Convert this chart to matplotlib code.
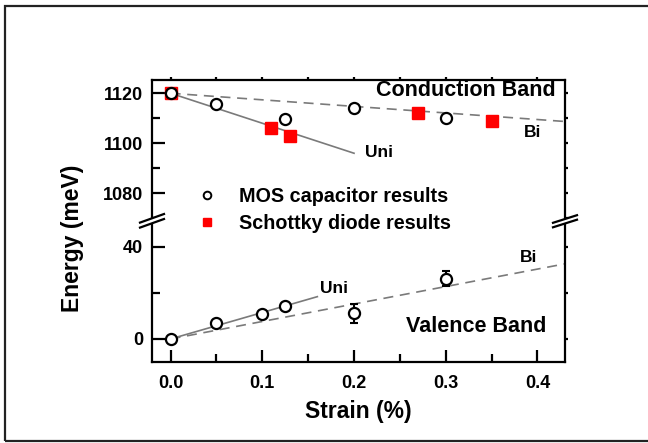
"""Band-edge shift vs. strain: conduction band (top) and valence band (bottom), broken y-axis."""

import matplotlib

matplotlib.use("Agg")
import matplotlib.pyplot as plt
from matplotlib.lines import Line2D
from matplotlib.patches import Polygon, Rectangle
from matplotlib.ticker import FormatStrFormatter, MultipleLocator

plt.rcParams["font.family"] = ["Liberation Sans", "DejaVu Sans"]
plt.rcParams["font.weight"] = "bold"
plt.rcParams["axes.labelweight"] = "bold"

# --- data ---------------------------------------------------------------------
# conduction band (meV)
cb_mos_strain = [0.0, 0.05, 0.125, 0.2, 0.3]
cb_mos_energy = [1120.0, 1115.6, 1109.8, 1114.0, 1109.9]
cb_sch_strain = [0.0, 0.11, 0.13, 0.27, 0.35]
cb_sch_energy = [1120.0, 1106.0, 1102.7, 1112.0, 1109.1]
cb_uni_strain = [0.0, 0.20]
cb_uni_energy = [1120.0, 1096.0]
cb_bi_strain = [0.0, 0.43]
cb_bi_energy = [1120.0, 1108.7]

# valence band (meV)
vb_mos_strain = [0.0, 0.05, 0.10, 0.125, 0.2, 0.3]
vb_mos_energy = [0.0, 7.1, 11.0, 14.3, 11.1, 26.0]
vb_mos_err = [0.0, 0.0, 0.0, 0.0, 4.0, 3.2]
vb_uni_strain = [0.0, 0.16]
vb_uni_energy = [0.0, 18.3]
vb_bi_strain = [0.0, 0.43]
vb_bi_energy = [0.0, 32.5]

W, H = 648, 443
fig = plt.figure(figsize=(W / 100, H / 100), dpi=100)


def px(x, y):
    """pixel (top-left origin) -> figure fraction"""
    return x / W, 1 - y / H


L, R, T, BRK, B = 151.7, 565.0, 80.0, 222.0, 362.3
ax_top = fig.add_axes([L / W, 1 - BRK / H, (R - L) / W, (BRK - T) / H])
ax_bot = fig.add_axes([L / W, 1 - B / H, (R - L) / W, (B - BRK) / H])
ax_top.patch.set_visible(False)
ax_bot.patch.set_visible(False)
ax_top.set_zorder(3)

line_grey = "#7a7a7a"
circ = dict(marker="o", ms=8, mfc="white", mec="black", mew=1.6, ls="none", zorder=5)
sq = dict(marker="s", ms=8, color="#ff0000", mec="#ff0000", ls="none", zorder=4)

# top: conduction band
ax_top.plot(cb_uni_strain, cb_uni_energy, color=line_grey, lw=1.2, zorder=2)
ax_top.plot(cb_bi_strain, cb_bi_energy, color=line_grey, lw=1.2, ls=(0, (6, 4)), zorder=2)
ax_top.plot(cb_sch_strain, cb_sch_energy, **sq)
ax_top.plot(cb_mos_strain, cb_mos_energy, **circ)
ax_top.text(0.212, 1096.3, "Uni", fontsize=12.5, va="center")
ax_top.text(0.385, 1104.3, "Bi", fontsize=12.5, va="center")
ax_top.text(0.42, 1121, "Conduction Band", fontsize=15.5, ha="right", va="center")

# bottom: valence band
ax_bot.plot(vb_uni_strain, vb_uni_energy, color=line_grey, lw=1.2, zorder=2)
ax_bot.plot(vb_bi_strain, vb_bi_energy, color=line_grey, lw=1.2, ls=(0, (6, 4)), zorder=2)
ax_bot.errorbar(vb_mos_strain, vb_mos_energy, yerr=vb_mos_err, fmt="none",
                ecolor="black", elinewidth=1.5, capsize=3, capthick=1.5, zorder=4)
ax_bot.plot(vb_mos_strain, vb_mos_energy, **circ)
ax_bot.text(0.163, 21.8, "Uni", fontsize=12.5, va="center")
ax_bot.text(0.381, 35.4, "Bi", fontsize=12.5, va="center")
ax_bot.text(0.41, 5.3, "Valence Band", fontsize=15.5, ha="right", va="center")

# axes limits, ticks, spines
ax_top.set_xlim(-0.0206, 0.43)
ax_bot.set_xlim(-0.0206, 0.43)
ax_top.set_ylim(1068.5, 1125.3)
ax_bot.set_ylim(-10.1, 50.6)

for ax in (ax_top, ax_bot):
    for s in ax.spines.values():
        s.set_linewidth(1.6)
    ax.tick_params(axis="both", which="major", labelsize=13, width=1.6)
    ax.tick_params(axis="both", which="minor", width=1.6)
    ax.tick_params(axis="y", which="major", direction="in", length=9, left=True, right=False)
    ax.tick_params(axis="y", which="minor", direction="in", length=6, left=True, right=False)
    ax.xaxis.set_major_locator(MultipleLocator(0.1))
    ax.xaxis.set_minor_locator(MultipleLocator(0.05))

ax_top.spines["bottom"].set_visible(False)
ax_bot.spines["top"].set_visible(False)
ax_top.yaxis.set_major_locator(MultipleLocator(20))
ax_top.yaxis.set_minor_locator(MultipleLocator(10))
ax_bot.yaxis.set_major_locator(MultipleLocator(40))
ax_bot.yaxis.set_minor_locator(MultipleLocator(20))

ax_top.tick_params(axis="x", which="both", bottom=False, labelbottom=False,
                   top=True, direction="out", length=2)
ax_bot.tick_params(axis="x", which="major", direction="in", length=9, top=False)
ax_bot.tick_params(axis="x", which="minor", direction="in", length=6, top=False)
ax_bot.tick_params(axis="x", pad=9)
ax_top.tick_params(axis="y", pad=6)
ax_bot.tick_params(axis="y", pad=6)
ax_bot.xaxis.set_major_formatter(FormatStrFormatter("%.1f"))

# right-hand short outward ticks
for ax in (ax_top, ax_bot):
    ax2 = ax.secondary_yaxis("right")
    ax2.set_yticks(list(ax.get_yticks()) + list(ax.yaxis.get_minorticklocs()))
    ax2.tick_params(direction="out", length=2.5, width=1.6, labelright=False)
    ax2.spines["right"].set_visible(False)

ax_bot.set_xlabel("Strain (%)", fontsize=16.5, labelpad=6)
fig.text(*px(73, 238), "Energy (meV)", fontsize=16.5, rotation=90, ha="center", va="center")

# legend
handles = [
    Line2D([], [], marker="o", ms=5.5, mfc="white", mec="black", mew=1.4, ls="none"),
    Line2D([], [], marker="s", ms=6, color="#ff0000", ls="none"),
]
ax_top.legend(handles, ["MOS capacitor results", "Schottky diode results"],
              loc="upper left", bbox_to_anchor=(0.11, 0.245), frameon=False,
              fontsize=14.2, handlelength=1.0, handletextpad=1.1,
              labelspacing=0.38, borderpad=0, borderaxespad=0)

# axis-break marks
for cx, cy1, cy2, half, rise in ((152, 218.3, 223.3, 12, 4.3), (565, 219.0, 223.5, 12, 3.8)):
    poly = [px(cx - half, cy1 + rise), px(cx + half, cy1 - rise),
            px(cx + half, cy2 - rise), px(cx - half, cy2 + rise)]
    fig.add_artist(Polygon(poly, closed=True, facecolor="white", edgecolor="none",
                           transform=fig.transFigure, zorder=10))
    for cy in (cy1, cy2):
        (x0, y0), (x1, y1) = px(cx - half, cy + rise), px(cx + half, cy - rise)
        fig.add_artist(Line2D([x0, x1], [y0, y1], color="black", lw=1.6,
                              transform=fig.transFigure, zorder=11))

# outer frame
x0, y0 = px(5, 441)
x1, y1 = px(660, 6)
fig.add_artist(Rectangle((x0, y0), x1 - x0, y1 - y0, fill=False, edgecolor="#222222",
                         lw=1.6, transform=fig.transFigure))

fig.savefig("out.png", dpi=100)
